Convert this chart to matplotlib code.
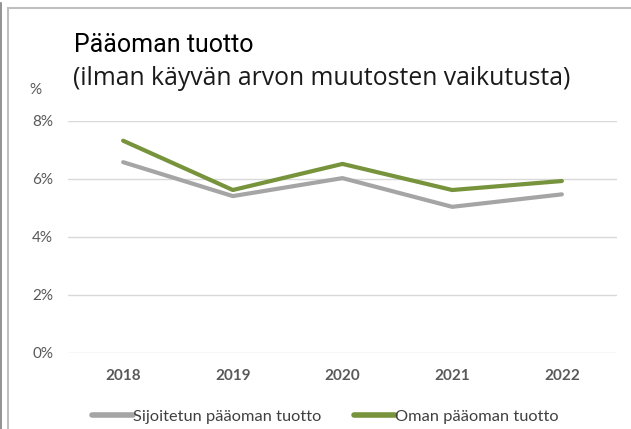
import matplotlib.pyplot as plt
from matplotlib.lines import Line2D

years = ['2018', '2019', '2020', '2021', '2022']
sijoitettu = [6.57, 5.40, 6.02, 5.03, 5.46]
oma = [7.31, 5.61, 6.51, 5.61, 5.92]
yticks = [0, 2, 4, 6, 8]

W, H = 631, 429
fig = plt.figure(figsize=(W / 100, H / 100), dpi=100)
fig.patch.set_facecolor('white')

ax = fig.add_axes([68.3 / W, 1 - 352.7 / H, (616.7 - 68.3) / W, (352.7 - 120.7) / H])
x = range(len(years))
ax.plot(x, sijoitettu, color='#A5A5A5', lw=3, solid_capstyle='round', solid_joinstyle='round',
        label='Sijoitetun pääoman tuotto', zorder=3)
ax.plot(x, oma, color='#77933C', lw=3, solid_capstyle='round', solid_joinstyle='round',
        label='Oman pääoman tuotto', zorder=4)

ax.set_xlim(-0.5, len(years) - 0.5)
ax.set_ylim(0, 8)
ax.set_yticks(yticks)
ax.set_yticklabels([f'{v}%' for v in yticks], family='Lato', fontsize=11, color='#595959')
ax.set_xticks(list(x))
ax.set_xticklabels(years, family='Lato', fontsize=11, fontweight='bold', color='#595959')
ax.tick_params(axis='y', length=0, pad=11)
ax.tick_params(axis='x', length=0, pad=12)
for s in ax.spines.values():
    s.set_visible(False)
ax.grid(axis='y', color='#D9D9D9', lw=1)
ax.set_axisbelow(True)

leg = fig.legend(loc='center', bbox_to_anchor=(325.5 / W, 1 - 416.7 / H), ncol=2, frameon=False,
                 prop={'family': 'Lato', 'size': 11.8}, handlelength=2.5, handletextpad=0.0,
                 columnspacing=2.0)
for t in leg.get_texts():
    t.set_color('#404040')
for h in leg.get_lines():
    h.set_linewidth(4)

fig.text(74 / W, 1 - 51.7 / H, 'Pääoman tuotto', family='Roboto', fontsize=18,
         color='black', va='baseline', ha='left')
fig.text(73 / W, 1 - 85 / H, '(ilman käyvän arvon muutosten vaikutusta)', family='Open Sans',
         fontsize=17.8, color='#1a1a1a', va='baseline', ha='left')
fig.text(35 / W, 1 - 90 / H, '%', family='Lato', fontsize=11, color='#595959',
         va='center', ha='center')

# frame lines
fig.add_artist(Line2D([7.5 / W, 7.5 / W], [0, 1 - 7.5 / H], color='#BFBFBF', lw=1.5))
fig.add_artist(Line2D([7.5 / W, 1], [1 - 7.5 / H, 1 - 7.5 / H], color='#BFBFBF', lw=1.5))
fig.add_artist(Line2D([1 / W, 1 / W], [0, 1 - 3 / H], color='#7F7F7F', lw=1.2))

fig.savefig('out.png', dpi=100)
